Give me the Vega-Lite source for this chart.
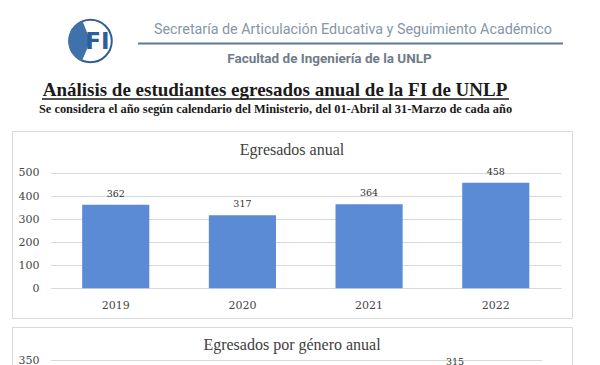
{
  "$schema": "https://vega.github.io/schema/vega-lite/v6.json",
  "background": "white",
  "padding": {"left": 11, "top": 15, "right": 5, "bottom": 5},
  "bounds": "flush",
  "spacing": 9,
  "config": {"view": {"stroke": null}},
  "datasets": {
    "logo": [{"sigla": "FI"}],
    "anual": [
      {"anio": "2019", "egresados": 362},
      {"anio": "2020", "egresados": 317},
      {"anio": "2021", "egresados": 364},
      {"anio": "2022", "egresados": 458}
    ],
    "genero": [
      {"anio": "2019", "genero": "Masculino", "egresados": 255},
      {"anio": "2019", "genero": "Femenino", "egresados": 107},
      {"anio": "2020", "genero": "Masculino", "egresados": 222},
      {"anio": "2020", "genero": "Femenino", "egresados": 95},
      {"anio": "2021", "genero": "Masculino", "egresados": 252},
      {"anio": "2021", "genero": "Femenino", "egresados": 112},
      {"anio": "2022", "genero": "Masculino", "egresados": 315},
      {"anio": "2022", "genero": "Femenino", "egresados": 143}
    ]
  },
  "vconcat": [
    {
      "width": 157,
      "height": 4,
      "data": {"name": "logo"},
      "title": {
        "text": "Secretaría de Articulación Educativa y Seguimiento Académico",
        "font": "Roboto", "fontSize": 14.3, "fontWeight": "normal", "color": "#8396aa",
        "anchor": "middle", "frame": "group", "dx": 262.5, "offset": -22
      },
      "layer": [
        {"mark": {"type": "point", "shape": "circle", "filled": true, "fill": "#ffffff", "stroke": "#2e5e96", "strokeWidth": 2, "size": 1810, "opacity": 1}},
        {"mark": {"type": "arc", "outerRadius": 22, "theta": 3.55, "theta2": 5.9, "fill": "#3f72ab"}, "encoding": {}},
        {"mark": {"type": "text", "font": "DejaVu Sans", "fontWeight": "bold", "fontSize": 23, "color": "#2c5f98", "align": "center", "baseline": "middle", "dx": 7, "dy": 1},
         "encoding": {"text": {"field": "sigla", "type": "nominal"}}},
        {
          "mark": {"type": "text", "text": ""},
          "encoding": {
            "x": {
              "datum": 0, "type": "quantitative",
              "scale": {"domain": [0, 1], "range": [125.5, 550.5], "nice": false},
              "axis": {
                "orient": "bottom", "domain": true, "domainColor": "#5f7a96", "domainWidth": 2,
                "ticks": false, "labels": false, "grid": false,
                "title": "Facultad de Ingeniería de la UNLP",
                "titleFont": "Roboto", "titleFontSize": 13.5, "titleFontWeight": "bold", "titleColor": "#707c88",
                "titleX": 317, "titleY": 15, "titleBaseline": "middle", "titleAnchor": "middle"
              }
            }
          }
        }
      ]
    },
    {
      "width": 526,
      "height": 70,
      "title": {
        "text": "Análisis de estudiantes egresados anual de la FI de UNLP",
        "font": "Liberation Serif", "fontSize": 19, "fontWeight": "bold", "color": "#1a1a1a",
        "anchor": "middle", "frame": "group", "offset": -48
      },
      "mark": {"type": "text", "text": ""},
      "encoding": {
        "x": {
          "datum": 0, "type": "quantitative",
          "scale": {"domain": [0, 1], "range": [29.5, 496.5], "nice": false},
          "axis": {
            "orient": "bottom", "offset": -23.5, "domain": true, "domainColor": "#1a1a1a", "domainWidth": 1.3,
            "ticks": false, "labels": false, "grid": false,
            "title": "Se considera el año según calendario del Ministerio, del 01-Abril al 31-Marzo de cada año",
            "titleFont": "Liberation Serif", "titleFontSize": 12.4, "titleFontWeight": "bold", "titleColor": "#1a1a1a",
            "titlePadding": 4
          }
        }
      }
    },
    {
      "width": 560,
      "height": 187,
      "view": {"stroke": "#d9d9d9", "strokeWidth": 1},
      "title": {
        "text": "Egresados anual", "font": "Liberation Serif", "fontSize": 16, "fontWeight": "normal",
        "color": "#404040", "anchor": "middle", "frame": "group", "offset": -27
      },
      "data": {"name": "anual"},
      "encoding": {
        "x": {
          "field": "anio", "type": "ordinal",
          "scale": {"range": [38.5, 549], "paddingInner": 0.47, "paddingOuter": 0.25},
          "axis": {
            "orient": "bottom", "offset": -21, "domain": false, "ticks": false, "tickSize": 0,
            "labelPadding": 2, "title": null, "labelAngle": 0, "grid": false,
            "labelFont": "DejaVu Serif", "labelFontSize": 11, "labelColor": "#474747"
          }
        },
        "y": {
          "field": "egresados", "type": "quantitative",
          "scale": {"domain": [-128.8, 682.1], "nice": false},
          "axis": {
            "values": [0, 100, 200, 300, 400, 500], "grid": true, "gridColor": "#d9d9d9", "gridWidth": 1,
            "domain": false, "ticks": false, "tickSize": 0, "labelPadding": 0, "offset": -27, "title": null,
            "labelFont": "DejaVu Serif", "labelFontSize": 11, "labelColor": "#474747"
          }
        }
      },
      "layer": [
        {"mark": {"type": "bar", "color": "#5b8bd5"}},
        {
          "mark": {"type": "text", "baseline": "bottom", "dy": -6, "font": "DejaVu Serif", "fontSize": 9.5, "color": "#333333"},
          "encoding": {"text": {"field": "egresados", "type": "quantitative"}}
        }
      ]
    },
    {
      "width": 560,
      "height": 187,
      "view": {"stroke": "#d9d9d9", "strokeWidth": 1},
      "title": {
        "text": "Egresados por género anual", "font": "Liberation Serif", "fontSize": 16, "fontWeight": "normal",
        "color": "#404040", "anchor": "middle", "frame": "group", "offset": -26
      },
      "data": {"name": "genero"},
      "encoding": {
        "x": {
          "field": "anio", "type": "ordinal",
          "scale": {"range": [38.5, 529.5], "paddingInner": 0.2, "paddingOuter": 0.1},
          "axis": {
            "orient": "bottom", "offset": -21, "domain": false, "ticks": false, "tickSize": 0,
            "labelPadding": 2, "title": null, "labelAngle": 0, "grid": false,
            "labelFont": "DejaVu Serif", "labelFontSize": 11, "labelColor": "#474747"
          }
        },
        "xOffset": {"field": "genero", "type": "nominal", "sort": ["Masculino", "Femenino"], "scale": {"paddingInner": 0.05}},
        "y": {
          "field": "egresados", "type": "quantitative",
          "scale": {"domain": [-85, 444.9], "nice": false},
          "axis": {
            "values": [0, 50, 100, 150, 200, 250, 300, 350], "grid": true, "gridColor": "#d9d9d9", "gridWidth": 1,
            "domain": false, "ticks": false, "tickSize": 0, "labelPadding": 0, "offset": -27, "title": null,
            "labelFont": "DejaVu Serif", "labelFontSize": 11, "labelColor": "#474747"
          }
        }
      },
      "layer": [
        {
          "mark": {"type": "bar"},
          "encoding": {
            "color": {"field": "genero", "type": "nominal", "sort": ["Masculino", "Femenino"],
              "scale": {"domain": ["Masculino", "Femenino"], "range": ["#5b8bd5", "#ed7d31"]}, "legend": null}
          }
        },
        {
          "mark": {"type": "text", "baseline": "bottom", "dy": -6, "font": "DejaVu Serif", "fontSize": 9.5, "color": "#333333"},
          "encoding": {"text": {"field": "egresados", "type": "quantitative"}}
        }
      ]
    }
  ]
}
